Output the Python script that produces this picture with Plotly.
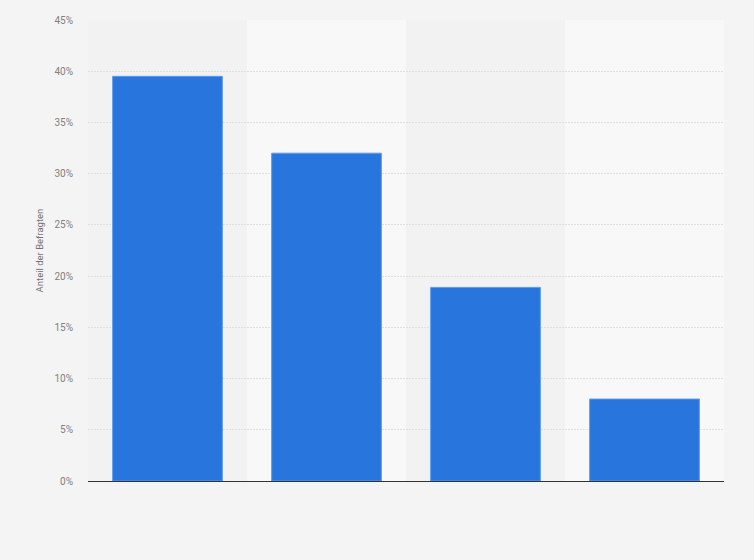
import plotly.graph_objects as go

# values (share of respondents, %)
categories = ["Kategorie 1", "Kategorie 2", "Kategorie 3", "Kategorie 4"]
shares = [39.5, 32.0, 18.9, 8.0]
y_ticks = [0, 5, 10, 15, 20, 25, 30, 35, 40, 45]
y_tick_labels = [str(t) + "%" for t in y_ticks]

fig = go.Figure()
fig.add_trace(go.Bar(x=list(range(len(categories))), y=shares, name="",
                     hovertext=categories,
                     marker=dict(color="#2876dd", line=dict(color="#5c9be9", width=1)),
                     width=0.69))

# alternating column shading like the original
for i in range(len(categories)):
    fig.add_shape(type="rect", xref="x", yref="paper", x0=i - 0.5, x1=i + 0.5, y0=0, y1=1,
                  fillcolor="#f2f2f2" if i % 2 == 0 else "#f8f8f8", line_width=0, layer="below")

fig.update_layout(
    width=754, height=560,
    paper_bgcolor="#f4f4f4", plot_bgcolor="#f4f4f4",
    margin=dict(l=88, r=30, t=20, b=79),
    showlegend=False,
    font=dict(family="Roboto, Arial, sans-serif", color="#666666", size=10),
)
fig.update_xaxes(range=[-0.5, len(categories) - 0.5], showticklabels=False, showgrid=False,
                 zeroline=False, showline=False, ticks="")
fig.update_yaxes(range=[0, 45], tickvals=y_ticks, ticktext=y_tick_labels,
                 showgrid=True, gridcolor="#e0e0e0", griddash="2px,1px", gridwidth=1,
                 zeroline=True, zerolinecolor="#333333", zerolinewidth=1,
                 ticklabelstandoff=14, tickfont=dict(size=10, color="#808080"),
                 title=dict(text="Anteil der Befragten", font=dict(size=9.5, color="#707070"), standoff=9))

# drop the default page margin so the chart fills the window
fig.write_html("out.html", config={"displayModeBar": False},
               post_script="document.body.style.margin='0';")
